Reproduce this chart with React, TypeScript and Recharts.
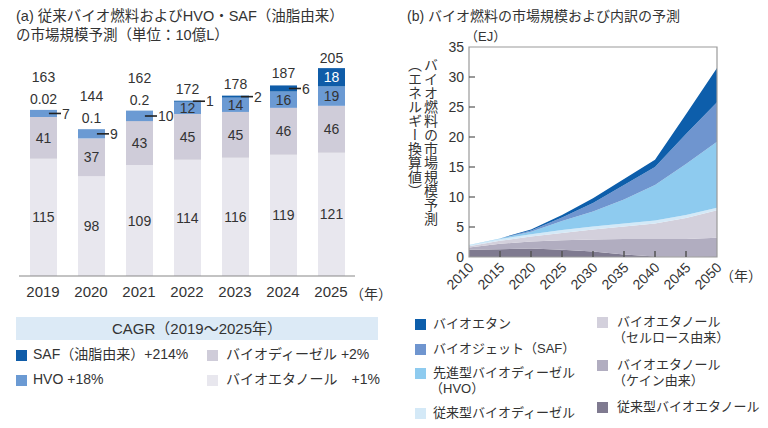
import React from 'react';
import { BarChart, Bar, XAxis, YAxis, LabelList, AreaChart, Area, ReferenceArea } from 'recharts';

const FONT = "'Liberation Sans', 'Noto Sans CJK JP', sans-serif";
const TEXT = '#333';

// ---------- (a) data ----------
const barYears = ['2019', '2020', '2021', '2022', '2023', '2024', '2025'];
const ethanolVals = [115, 98, 109, 114, 116, 119, 121];
const biodieselVals = [41, 37, 43, 45, 45, 46, 46];
const hvoVals = [7, 9, 10, 12, 14, 16, 19];
const safVals = [0.02, 0.1, 0.2, 1, 2, 6, 18];
const totalLabels = [163, 144, 162, 172, 178, 187, 205];

const barColors = { saf: '#0f5ca8', hvo: '#6b9ad3', biodiesel: '#cfccd9', ethanol: '#e8e7ee' };
const cagrTitle = 'CAGR（2019～2025年）';
const barLegendLabels = ['SAF（油脂由来）+214%', 'HVO +18%', 'バイオディーゼル +2%', 'バイオエタノール　+1%'];

// ---------- (b) data ----------
const areaYears = [2010, 2015, 2020, 2025, 2030, 2035, 2040, 2045, 2050];
const convEthanol = [1.2, 1.3, 1.4, 1.2, 0.9, 0.4, 0.1, 0.05, 0];
const caneEthanol = [0.4, 0.9, 1.2, 1.6, 2.0, 2.6, 2.9, 2.95, 3.2];
const celluloseEthanol = [0.2, 0.5, 0.8, 1.2, 1.7, 2.1, 2.6, 3.5, 4.6];
const convBiodiesel = [0.15, 0.3, 0.4, 0.5, 0.5, 0.5, 0.5, 0.5, 0.4];
const hvoFuel = [0.05, 0.1, 0.4, 1.5, 2.5, 4.0, 5.9, 8.5, 11.0];
const bioJet = [0, 0, 0.2, 0.6, 1.4, 2.4, 3.0, 5.0, 6.6];
const bioEthane = [0, 0, 0.2, 0.4, 0.8, 1.0, 1.2, 3.3, 5.7];
const yTicksB = [0, 5, 10, 15, 20, 25, 30, 35];

const areaSeries = [
  { key: 'convEthanol', name: '従来型バイオエタノール', color: '#7f7a90', vals: convEthanol },
  { key: 'caneEthanol', name: 'バイオエタノール\n（ケイン由来）', color: '#b1adc0', vals: caneEthanol },
  { key: 'celluloseEthanol', name: 'バイオエタノール\n（セルロース由来）', color: '#d3d0dc', vals: celluloseEthanol },
  { key: 'convBiodiesel', name: '従来型バイオディーゼル', color: '#d4e9f7', vals: convBiodiesel },
  { key: 'hvoFuel', name: '先進型バイオディーゼル\n（HVO）', color: '#8ecbef', vals: hvoFuel },
  { key: 'bioJet', name: 'バイオジェット（SAF）', color: '#6f95cf', vals: bioJet },
  { key: 'bioEthane', name: 'バイオエタン', color: '#0d5eab', vals: bioEthane },
];

const barData = barYears.map((y, i) => ({
  year: y,
  ethanol: ethanolVals[i],
  biodiesel: biodieselVals[i],
  hvo: hvoVals[i],
  saf: safVals[i],
}));

const areaData = areaYears.map((y, i) => {
  const row: any = { year: y };
  areaSeries.forEach((s) => (row[s.key] = s.vals[i]));
  return row;
});

const box = (p: any) => {
  const vb = p.viewBox && p.viewBox.width !== undefined ? p.viewBox : p;
  return { x: Number(vb.x), y: Number(vb.y), w: Number(vb.width), h: Number(vb.height) };
};

const txt = (x: number, y: number, s: any, fill = TEXT, anchor = 'middle', key?: string) => (
  <text key={key} x={x} y={y} dy="0.36em" textAnchor={anchor as any} fontSize={14} fill={fill} fontFamily={FONT}>
    {s}
  </text>
);

const centerLabel = (vals: number[]) => (p: any) => {
  const { x, y, w, h } = box(p);
  return txt(x + w / 2, y + h / 2, vals[p.index]);
};

const dash = (x: number, y: number, w: number, h: number, v: any) => {
  const cy = y + h / 2;
  return (
    <g>
      <line x1={x + w * 0.7} x2={x + w + 4} y1={cy} y2={cy} stroke="#222" strokeWidth={1.6} />
      {txt(x + w + 5, cy, v, TEXT, 'start')}
    </g>
  );
};

const hvoLabel = (p: any) => {
  const { x, y, w, h } = box(p);
  const v = hvoVals[p.index];
  if (v < 11) return dash(x, y, w, h, v);
  return txt(x + w / 2, y + h / 2, v);
};

const safLabel = (p: any) => {
  const { x, y, w, h } = box(p);
  const i = p.index;
  const v = safVals[i];
  const cx = x + w / 2;
  if (v < 0.5) {
    return (
      <g>
        {txt(cx, y - 11, v)}
        {txt(cx, y - 33, totalLabels[i])}
      </g>
    );
  }
  if (v < 11) {
    return (
      <g>
        {dash(x, y, w, h, v)}
        {txt(cx, y - 12, totalLabels[i])}
      </g>
    );
  }
  return (
    <g>
      {txt(cx, y + h / 2, v, '#fff')}
      {txt(cx, y - 10, totalLabels[i])}
    </g>
  );
};

const XTickB = (p: any) => {
  const { x, y, payload } = p;
  const inner = payload.value !== 2010 && payload.value !== 2050;
  return (
    <g>
      {inner && <line x1={x} x2={x} y1={y} y2={y - 6} stroke="#555" strokeWidth={1.5} />}
      <text
        x={x + 2}
        y={y + 8}
        dy="0.36em"
        textAnchor="end"
        fontSize={14}
        fill={TEXT}
        fontFamily={FONT}
        transform={`rotate(-45, ${x + 2}, ${y + 8})`}
      >
        {payload.value}
      </text>
    </g>
  );
};

const YTickB = (p: any) => {
  const { x, y, payload } = p;
  const inner = payload.value !== 0 && payload.value !== 35;
  return (
    <g>
      {inner && <line x1={x + 5} x2={x + 11} y1={y} y2={y} stroke="#555" strokeWidth={1.2} />}
      <text x={x} y={y} dy="0.36em" textAnchor="end" fontSize={14} fill={TEXT} fontFamily={FONT}>
        {payload.value}
      </text>
    </g>
  );
};

const abs = (left: number, top: number, extra: any = {}): any => ({
  position: 'absolute',
  left,
  top,
  whiteSpace: 'pre',
  color: TEXT,
  ...extra,
});

const Sq = ({ left, cy, color, size = 11 }: any) => (
  <div style={abs(left, cy - size / 2, { width: size, height: size, background: color })} />
);

const Line = ({ left, cy, text, size = 13 }: any) => (
  <div style={abs(left, cy - size * 0.7, { fontSize: size, lineHeight: `${size * 1.4}px` })}>{text}</div>
);

export default function App() {
  const legendBLeft = [
    { s: areaSeries[6], cy: [324] },
    { s: areaSeries[5], cy: [349] },
    { s: areaSeries[4], cy: [373, 389] },
    { s: areaSeries[3], cy: [413] },
  ];
  const legendBRight = [
    { s: areaSeries[2], cy: [322, 338] },
    { s: areaSeries[1], cy: [365, 381] },
    { s: areaSeries[0], cy: [407] },
  ];
  return (
    <div style={{ position: 'absolute', left: 0, top: 0, width: 768, height: 428, background: '#fff', fontFamily: FONT, overflow: 'hidden' }}>
      {/* (a) titles */}
      <div style={abs(16, 6, { fontSize: 14.5, lineHeight: '20px' })}>(a) 従来バイオ燃料およびHVO・SAF（油脂由来）</div>
      <div style={abs(16, 25, { fontSize: 14.5, lineHeight: '20px' })}>の市場規模予測（単位：10億L）</div>

      <div style={abs(0, 0)}>
        <BarChart width={400} height={310} data={barData} margin={{ top: 62, right: 45, bottom: 4, left: 19 }} barSize={27}>
          <XAxis
            dataKey="year"
            height={30}
            axisLine={{ stroke: '#888', strokeWidth: 1.2 }}
            tickLine={false}
            tickSize={0}
            tickMargin={10}
            tick={{ fontSize: 15, fill: TEXT, fontFamily: FONT }}
            interval={0}
          />
          <YAxis hide domain={[0, 210]} />
          <Bar dataKey="ethanol" stackId="a" fill={barColors.ethanol} isAnimationActive={false}>
            <LabelList dataKey="ethanol" content={centerLabel(ethanolVals)} />
          </Bar>
          <Bar dataKey="biodiesel" stackId="a" fill={barColors.biodiesel} isAnimationActive={false}>
            <LabelList dataKey="biodiesel" content={centerLabel(biodieselVals)} />
          </Bar>
          <Bar dataKey="hvo" stackId="a" fill={barColors.hvo} isAnimationActive={false}>
            <LabelList dataKey="hvo" content={hvoLabel} />
          </Bar>
          <Bar dataKey="saf" stackId="a" fill={barColors.saf} isAnimationActive={false}>
            <LabelList dataKey="saf" content={safLabel} />
          </Bar>
        </BarChart>
      </div>
      <div style={abs(350, 284, { fontSize: 14, lineHeight: '20px' })}>（年）</div>

      {/* (a) legend */}
      <div style={abs(16, 317, { width: 362, height: 23, background: '#dceaf6', fontSize: 15, lineHeight: '23px', textAlign: 'center' })}>{cagrTitle}</div>
      <Sq left={16} cy={355} color={barColors.saf} />
      <Line left={33} cy={355} text={barLegendLabels[0]} size={14} />
      <Sq left={16} cy={380} color={barColors.hvo} />
      <Line left={33} cy={380} text={barLegendLabels[1]} size={14} />
      <Sq left={207} cy={355} color={barColors.biodiesel} />
      <Line left={226} cy={355} text={barLegendLabels[2]} size={14} />
      <Sq left={207} cy={380} color={barColors.ethanol} />
      <Line left={226} cy={380} text={barLegendLabels[3]} size={14} />

      {/* (b) titles */}
      <div style={abs(407, 6, { fontSize: 14, lineHeight: '20px' })}>(b) バイオ燃料の市場規模および内訳の予測</div>
      <div style={abs(465, 28, { fontSize: 13, lineHeight: '18px' })}>（EJ）</div>
      <div style={abs(406, 58, { fontSize: 14, lineHeight: '16px', writingMode: 'vertical-rl' })}>
        {'バイオ燃料の市場規模予測\n（エネルギー換算値）'}
      </div>

      <div style={abs(390, 0)}>
        <AreaChart width={378} height={310} data={areaData} margin={{ top: 47, right: 51, bottom: 3, left: 49 }}>
          <XAxis
            dataKey="year"
            type="number"
            domain={[2010, 2050]}
            ticks={areaYears}
            height={50}
            axisLine={false}
            tickLine={false}
            tickSize={0}
            tickMargin={0}
            interval={0}
            tick={<XTickB />}
          />
          <YAxis
            type="number"
            domain={[0, 35]}
            ticks={yTicksB}
            width={30}
            axisLine={false}
            tickLine={false}
            tickSize={0}
            tickMargin={5}
            interval={0}
            tick={<YTickB />}
          />
          {areaSeries.map((s) => (
            <Area
              key={s.key}
              dataKey={s.key}
              stackId="b"
              type="linear"
              stroke="none"
              fill={s.color}
              fillOpacity={1}
              isAnimationActive={false}
            />
          ))}
          <ReferenceArea x1={2010} x2={2050} y1={0} y2={35} fill="none" stroke="#9a9a9a" strokeWidth={1.2} />
        </AreaChart>
      </div>
      <div style={abs(720, 266, { fontSize: 14, lineHeight: '20px' })}>（年）</div>

      {/* (b) legend */}
      {legendBLeft.map((it) => (
        <React.Fragment key={it.s.key}>
          <Sq left={415} cy={it.cy[0]} color={it.s.color} />
          {it.s.name.split('\n').map((t, j) => (
            <Line key={j} left={j === 0 ? 433 : 430} cy={it.cy[j]} text={t} />
          ))}
        </React.Fragment>
      ))}
      {legendBRight.map((it) => (
        <React.Fragment key={it.s.key}>
          <Sq left={597} cy={it.cy[0]} color={it.s.color} />
          {it.s.name.split('\n').map((t, j) => (
            <Line key={j} left={j === 0 ? 617 : 613} cy={it.cy[j]} text={t} />
          ))}
        </React.Fragment>
      ))}
    </div>
  );
}
